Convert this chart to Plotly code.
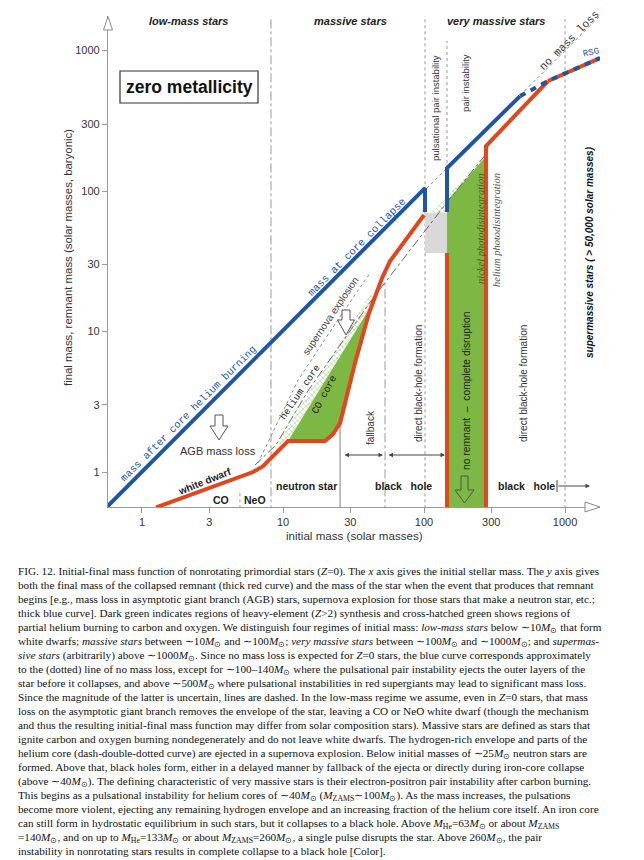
import math
import plotly.graph_objects as go

# ---------------- data (solar masses) ----------------
tick_vals = [1, 3, 10, 30, 100, 300, 1000]
tick_text = ["1", "3", "10", "30", "100", "300", "1000"]

# no-mass-loss reference line (final mass = initial mass)
nml_x = [0.5, 2000]
nml_y = [0.5, 2000]

# blue: mass of the star when the remnant-producing event begins
blue1_x = [0.5, 101.6, 101.6]
blue1_y = [0.5, 105.0, 70.9]
blue2_x = [145.6, 145.6, 480.0]
blue2_y = [70.9, 145.8, 474.0]
blue3_x = [480.0, 757.0, 1770.0]      # dashed (uncertain RSG mass loss)
blue3_y = [474.0, 607.0, 885.0]

# red: remnant mass
red1_x = [1.26, 6.13, 7.21, 8.08, 9.21, 10.85, 19.86, 22.6, 25.4, 32.4, 40.7, 44.9, 50.4, 57.4, 77.0, 100.0]
red1_y = [0.56, 1.00, 1.10, 1.24, 1.43, 1.66, 1.66, 1.86, 2.23, 5.97, 13.5, 17.6, 24.0, 31.7, 47.1, 67.5]
red2_x = [145.6, 145.6]
red2_y = [36.2, 0.5]
red3_x = [275.0, 275.0, 757.0]
red3_y = [0.5, 209.0, 607.0]
red4_x = [757.0, 1770.0]
red4_y = [607.0, 885.0]

# helium core (dash-double-dotted) and supernova-explosion guide
hec_x = [6.33, 8.92, 15.0, 43.5, 148.0, 275.0]
hec_y = [1.12, 1.56, 3.77, 17.3, 84.9, 183.0]
sn_x = [6.65, 12.8, 24.5, 41.4]
sn_y = [1.16, 4.52, 12.1, 26.1]

# CO core (heavy-element synthesis) region, massive stars
co_x = [10.85, 19.86, 22.6, 25.4, 32.4, 40.7, 42.1, 10.85]
co_y = [1.66, 1.66, 1.86, 2.23, 5.97, 13.5, 15.2, 1.66]
# partial helium burning (cross-hatched) strip
hb_x = [8.92, 10.85, 42.1, 45.7, 40.7, 8.92]
hb_y = [1.53, 1.66, 15.2, 18.5, 17.9, 1.53]
# pair-instability supernova region
pisn_x = [145.6, 145.6, 275.0, 275.0, 145.6]
pisn_y = [0.5, 84.9, 177.0, 0.5, 0.5]
hb2_x = [112.0, 145.6, 145.6, 275.0, 275.0, 145.6, 112.0]
hb2_y = [69.7, 69.7, 84.9, 177.0, 190.0, 90.6, 69.7]
# pulsational pair instability (uncertain) box
ppi_x = [101.6, 145.6, 145.6, 101.6, 101.6]
ppi_y = [36.2, 36.2, 69.7, 69.7, 36.2]

# regime boundaries: (initial mass, y-bottom, y-top, dash)
TOP = 1762
dividers = [
    (8.22, 0.5, TOP, "dashdot"),
    (101.6, 0.5, TOP, "dot"),
    (145.6, 36.2, 1169, "dot"),
    (1000.0, 0.5, TOP, "dot"),
    (52.9, 0.5, 22.9, "dashdot"),
    (25.4, 0.5, 2.23, "solid"),
    (4.95, 0.5, 0.745, "dot"),
]

# ---------------- styling ----------------
BLUE = "#1f56a3"
RED = "#e2461c"
GREEN = "#7db844"
HATCH = "#7fb85a"
SANS = "Liberation Sans, Arial, sans-serif"
MONO = "Liberation Mono, Courier New, monospace"
SERIF = "Liberation Serif, Times New Roman, serif"

fig = go.Figure()

def line(x, y, color, width, dash="solid"):
    fig.add_trace(go.Scatter(x=x, y=y, mode="lines", hoverinfo="skip",
                             line=dict(color=color, width=width, dash=dash)))

def poly(x, y, color, pattern=None):
    kw = {}
    if pattern:
        kw["fillpattern"] = dict(shape="x", fgcolor=HATCH, bgcolor="white", size=4, solidity=0.4)
        fc = "white"
    else:
        fc = color
    fig.add_trace(go.Scatter(x=x, y=y, mode="lines", fill="toself", fillcolor=fc,
                             line=dict(width=0, color=fc), hoverinfo="skip", **kw))

line(nml_x, nml_y, "#8a8a8a", 1, "dot")
for xv, y0, y1, d in dividers:
    line([xv, xv], [y0, y1], "#999999" if d != "solid" else "#aaaaaa", 1 if d != "solid" else 1.5, d)

poly(hb_x, hb_y, None, pattern=True)
poly(hb2_x, hb2_y, None, pattern=True)
poly(co_x, co_y, GREEN)
poly(pisn_x, pisn_y, GREEN)
poly(ppi_x, ppi_y, "#d9d9d9")

line(hec_x, hec_y, "#666666", 1, "dashdot")
line(sn_x, sn_y, "#888888", 1, "dot")

line(red1_x, red1_y, RED, 4)
line(red2_x, red2_y, RED, 4)
line(red3_x, red3_y, RED, 4)
line(red4_x, red4_y, RED, 4)
line(blue1_x, blue1_y, BLUE, 4)
line(blue2_x, blue2_y, BLUE, 4)
line(blue3_x, blue3_y, BLUE, 4, "6px,6px")

axis_common = dict(type="log", showgrid=False, zeroline=False, showline=True,
                   linecolor="#9a9a9a", linewidth=1.2, ticks="outside", ticklen=5,
                   tickcolor="#9a9a9a", tickvals=tick_vals, ticktext=tick_text,
                   tickfont=dict(family=SANS, size=11, color="#333333"))
fig.update_xaxes(range=[-0.241, 3.248], **axis_common)
fig.update_yaxes(range=[-0.249, 3.246], **axis_common)

# ---------------- annotations (pixel -> paper helpers) ----------------
def PX(x):
    return (x - 100) / 492.0

def PY(y):
    return (499 - y) / 491.0

ann = []
shapes = []

def txt(x, y, s, size=10, font=SANS, color="#222222", angle=0, xanchor="center", yanchor="middle"):
    ann.append(dict(xref="paper", yref="paper", x=PX(x), y=PY(y), text=s, showarrow=False,
                    font=dict(family=font, size=size, color=color), textangle=angle,
                    xanchor=xanchor, yanchor=yanchor))

txt(180, 13, "<b><i>low-mass stars</i></b>", 11)
txt(342, 13, "<b><i>massive stars</i></b>", 11)
txt(488, 13, "<b><i>very massive stars</i></b>", 11)
txt(181, 79, "<b>zero metallicity</b>", 17.5, color="#111111")
shapes.append(dict(type="rect", xref="paper", yref="paper", x0=PX(112), x1=PX(250), y0=PY(95), y1=PY(63),
                   line=dict(color="#333333", width=1.2)))

txt(180, 406, "mass after core helium burning", 10.4, MONO, BLUE, -45)
txt(349, 239, "mass at core collapse", 10.6, MONO, BLUE, -45)
txt(561, 33, "no mass loss", 11, MONO, "#333333", -45)
txt(583, 45, "RSG", 9, MONO, BLUE, -12)
txt(323, 308, "supernova explosion", 10, SANS, "#444444", -56)
txt(292, 384, "helium core", 9.7, MONO, "#222222", -56)
txt(317, 387, "CO core", 10, MONO, "#222222", -62)
txt(210, 443, "AGB mass loss", 11, SANS, "#333333")
txt(196, 473, "<b>white dwarf</b>", 10, SANS, "#222222", -22)
txt(213, 492, "<b>CO</b>", 10.5)
txt(247, 492, "<b>NeO</b>", 10.5)
txt(298, 478, "<b>neutron star</b>", 10.5)
txt(395, 478, "<b>black   hole</b>", 10.5)
txt(518, 478, "<b>black   hole</b>", 10.5)
txt(362, 420, "fallback", 10, SANS, "#333333", -90)
txt(410, 376, "direct black-hole formation", 10, SANS, "#333333", -90)
txt(458, 383, "no remnant  \u2013  complete disruption", 10.3, SANS, "#222222", -90)
txt(515, 376, "direct black-hole formation", 10, SANS, "#333333", -90)
txt(582, 244, "<b><i>supermassive stars ( &gt; 50,000 solar masses)</i></b>", 10, SANS, "#111111", -90)
txt(428, 100, "pulsational pair instability", 9.5, SANS, "#333333", -90)
txt(458, 75, "pair instability", 9.5, SANS, "#333333", -90)
txt(472, 221, "<i>nickel photodisintegration</i>", 10.5, SERIF, "#3f5f2a", -90)
txt(488, 222, "<i>helium photodisintegration</i>", 10.5, SERIF, "#555555", -90)

txt(346, 527, "initial mass (solar masses)", 11.6, SANS, "#333333")
txt(60, 250, "final mass, remnant mass (solar masses, baryonic)", 11.4, SANS, "#333333", -90)

def harrow(x_head, x_tail, y, both=True):
    ann.append(dict(xref="paper", yref="paper", x=PX(x_head), y=PY(y), ax=x_tail - x_head, ay=0,
                    axref="pixel", ayref="pixel", text="", showarrow=True,
                    arrowside="end+start" if both else "end", arrowhead=2, startarrowhead=2,
                    arrowsize=0.9, startarrowsize=0.9, arrowwidth=1, arrowcolor="#444444",
                    standoff=0, startstandoff=0))

harrow(375, 335, 447)
harrow(437, 379, 447)
harrow(582, 549, 478, both=False)
shapes.append(dict(type="line", xref="paper", yref="paper", x0=PX(549), x1=PX(549), y0=PY(472), y1=PY(484),
                   line=dict(color="#444444", width=1)))

def block_arrow(cx, top, shaft_bot, tip, sw=4.0, hw=9.0, fill="white"):
    pts = [(cx - sw, top), (cx + sw, top), (cx + sw, shaft_bot), (cx + hw, shaft_bot), (cx, tip),
           (cx - hw, shaft_bot), (cx - sw, shaft_bot)]
    path = "M " + " L ".join(f"{PX(a):.5f},{PY(b):.5f}" for a, b in pts) + " Z"
    shapes.append(dict(type="path", xref="paper", yref="paper", path=path,
                       line=dict(color="#555555", width=1), fillcolor=fill))

block_arrow(211, 407, 418, 432)
block_arrow(338, 302, 312, 327, 4.0, 8.5)
block_arrow(456.5, 468, 482, 495, 3.5, 9.5, "rgba(0,0,0,0)")

# axis arrow heads (open triangles)
shapes.append(dict(type="path", xref="paper", yref="paper",
                   path=f"M {PX(95.5)},{PY(22)} L {PX(100)},{PY(8.5)} L {PX(104.5)},{PY(22)} Z",
                   line=dict(color="#8a8a8a", width=1), fillcolor="white"))
shapes.append(dict(type="path", xref="paper", yref="paper",
                   path=f"M {PX(577)},{PY(494)} L {PX(592)},{PY(499)} L {PX(577)},{PY(504)} Z",
                   line=dict(color="#8a8a8a", width=1), fillcolor="white"))

# ---------------- caption ----------------
M = "<i>M</i><sub>\u2299</sub>"
caption = [
    "FIG. 12. Initial-final mass function of nonrotating primordial stars (<i>Z</i>=0). The <i>x</i> axis gives the initial stellar mass. The <i>y</i> axis gives",
    "both the final mass of the collapsed remnant (thick red curve) and the mass of the star when the event that produces that remnant",
    "begins [e.g., mass loss in asymptotic giant branch (AGB) stars, supernova explosion for those stars that make a neutron star, etc.;",
    "thick blue curve]. Dark green indicates regions of heavy-element (<i>Z</i>&gt;2) synthesis and cross-hatched green shows regions of",
    f"partial helium burning to carbon and oxygen. We distinguish four regimes of initial mass: <i>low-mass stars</i> below \u223c10{M} that form",
    f"white dwarfs; <i>massive stars</i> between \u223c10{M} and \u223c100{M}; <i>very massive stars</i> between \u223c100{M} and \u223c1000{M}; and <i>supermas-</i>",
    f"<i>sive stars</i> (arbitrarily) above \u223c1000{M}. Since no mass loss is expected for <i>Z</i>=0 stars, the blue curve corresponds approximately",
    f"to the (dotted) line of no mass loss, except for \u223c100\u2013140{M} where the pulsational pair instability ejects the outer layers of the",
    f"star before it collapses, and above \u223c500{M} where pulsational instabilities in red supergiants may lead to significant mass loss.",
    "Since the magnitude of the latter is uncertain, lines are dashed. In the low-mass regime we assume, even in <i>Z</i>=0 stars, that mass",
    "loss on the asymptotic giant branch removes the envelope of the star, leaving a CO or NeO white dwarf (though the mechanism",
    "and thus the resulting initial-final mass function may differ from solar composition stars). Massive stars are defined as stars that",
    "ignite carbon and oxygen burning nondegenerately and do not leave white dwarfs. The hydrogen-rich envelope and parts of the",
    f"helium core (dash-double-dotted curve) are ejected in a supernova explosion. Below initial masses of \u223c25{M} neutron stars are",
    "formed. Above that, black holes form, either in a delayed manner by fallback of the ejecta or directly during iron-core collapse",
    f"(above \u223c40{M}). The defining characteristic of very massive stars is their electron-positron pair instability after carbon burning.",
    f"This begins as a pulsational instability for helium cores of \u223c40{M} (<i>M</i><sub>ZAMS</sub>\u223c100{M}). As the mass increases, the pulsations",
    "become more violent, ejecting any remaining hydrogen envelope and an increasing fraction of the helium core itself. An iron core",
    f"can still form in hydrostatic equilibrium in such stars, but it collapses to a black hole. Above <i>M</i><sub>He</sub>=63{M} or about <i>M</i><sub>ZAMS</sub>",
    f"=140{M}, and on up to <i>M</i><sub>He</sub>=133{M} or about <i>M</i><sub>ZAMS</sub>=260{M}, a single pulse disrupts the star. Above 260{M}, the pair",
    "instability in nonrotating stars results in complete collapse to a black hole [Color].",
]
for i, s in enumerate(caption):
    ann.append(dict(xref="paper", yref="paper", x=PX(8), y=PY(555 + 14 * i), text=s, showarrow=False,
                    font=dict(family=SERIF, size=11.2, color="#111111"),
                    xanchor="left", yanchor="top"))

fig.update_layout(width=644, height=860, margin=dict(l=100, r=52, t=8, b=361),
                  plot_bgcolor="white", paper_bgcolor="white", showlegend=False,
                  annotations=ann, shapes=shapes)
fig.write_html("out.html")
